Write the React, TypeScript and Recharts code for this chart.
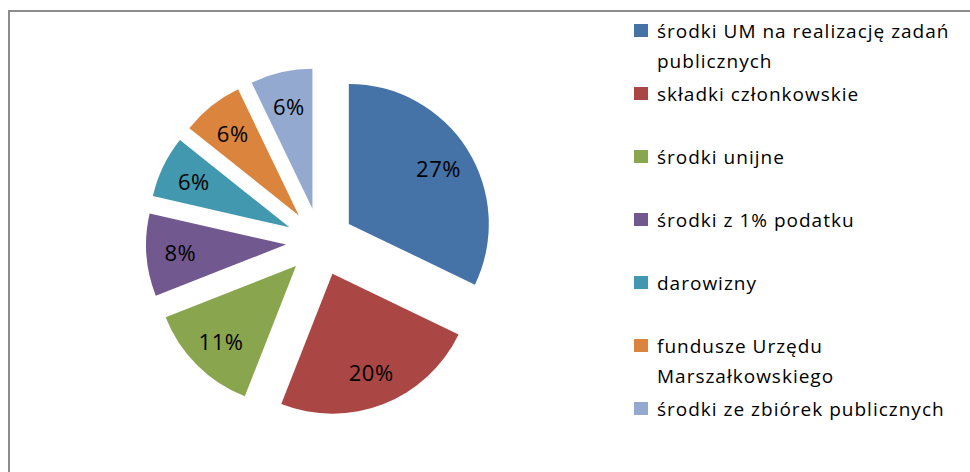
import { PieChart, Pie, Cell, Legend, Sector } from "recharts";

const categories = [
  "środki UM na realizację zadań publicznych",
  "składki członkowskie",
  "środki unijne",
  "środki z 1% podatku",
  "darowizny",
  "fundusze Urzędu Marszałkowskiego",
  "środki ze zbiórek publicznych",
];

const shares = [27, 20, 11, 8, 6, 6, 6];

const colors = ["#4572A7", "#AA4643", "#89A54E", "#71588F", "#4198AF", "#DB843D", "#93A9CF"];

const data = categories.map((name, i) => ({ name, value: shares[i] }));

const RAD = Math.PI / 180;
const EXPLODE = 34;
const FONT = "'Open Sans', Lato, sans-serif";

// every slice pushed out from the centre along its mid angle
function ExplodedSector(props: any) {
  const { cx, cy, midAngle, innerRadius, outerRadius, startAngle, endAngle, fill } = props;
  const dx = EXPLODE * Math.cos(-midAngle * RAD);
  const dy = EXPLODE * Math.sin(-midAngle * RAD);
  return (
    <Sector
      cx={cx + dx}
      cy={cy + dy}
      innerRadius={innerRadius}
      outerRadius={outerRadius}
      startAngle={startAngle}
      endAngle={endAngle}
      fill={fill}
      stroke="none"
    />
  );
}

function renderLabel(props: any) {
  const { cx, cy, midAngle, outerRadius, value } = props;
  const r = outerRadius;
  const x = cx + r * Math.cos(-midAngle * RAD);
  const y = cy + r * Math.sin(-midAngle * RAD);
  return (
    <text
      x={x}
      y={y}
      textAnchor="middle"
      dominantBaseline="central"
      fontFamily={FONT}
      fontSize={22}
      letterSpacing={0.5}
      fill="#000"
    >
      {value}%
    </text>
  );
}

function LegendList(props: any) {
  const { payload } = props;
  const items = [...(payload || [])].sort(
    (a: any, b: any) => categories.indexOf(a.value) - categories.indexOf(b.value)
  );
  return (
    <div style={{ fontFamily: FONT, fontSize: 19, letterSpacing: 1, color: "#000" }}>
      {items.map((entry: any, i: number) => (
        <div key={`leg-${i}`} style={{ display: "flex", alignItems: "flex-start", height: 63 }}>
          <span
            style={{
              width: 14,
              height: 13,
              background: entry.color,
              marginTop: 7,
              marginRight: 9,
              flex: "none",
            }}
          />
          <span style={{ lineHeight: "30px", width: 308, marginTop: -1 }}>{entry.value}</span>
        </div>
      ))}
    </div>
  );
}

export default function App() {
  return (
    <div
      style={{
        position: "fixed",
        left: 0,
        top: 0,
        width: 970,
        height: 472,
        overflow: "hidden",
        background: "#fff",
      }}
    >
      <div
        style={{
          position: "absolute",
          left: 8,
          top: 10,
          width: 1200,
          height: 600,
          border: "2px solid #8c8c8c",
        }}
      />
      <div style={{ position: "absolute", left: 0, top: 0 }}>
        <PieChart width={970} height={472} margin={{ top: 0, right: 0, bottom: 0, left: 0 }}>
          <Pie
            data={data}
            dataKey="value"
            nameKey="name"
            cx={320}
            cy={242}
            innerRadius={0}
            outerRadius={140}
            startAngle={90}
            endAngle={-270}
            shape={ExplodedSector}
            activeShape={ExplodedSector}
            label={renderLabel}
            labelLine={false}
            isAnimationActive={false}
          >
            {data.map((entry, i) => (
              <Cell key={`cell-${i}`} fill={colors[i]} />
            ))}
          </Pie>
          <Legend
            layout="vertical"
            align="right"
            verticalAlign="top"
            content={LegendList}
            wrapperStyle={{ left: 634, top: 17, width: 330 }}
          />
        </PieChart>
      </div>
    </div>
  );
}
